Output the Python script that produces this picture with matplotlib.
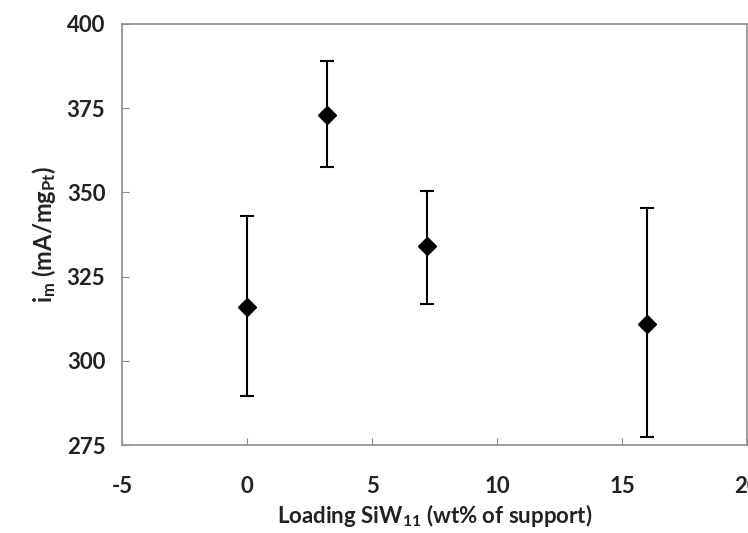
import numpy as np
import matplotlib.pyplot as plt

plt.rcParams['font.family'] = ['Lato', 'DejaVu Sans']
plt.rcParams['mathtext.fontset'] = 'custom'
plt.rcParams['mathtext.rm'] = 'Lato'
plt.rcParams['mathtext.it'] = 'Lato'
plt.rcParams['mathtext.bf'] = 'Lato:bold'
plt.rcParams['axes.unicode_minus'] = False

# carga de SiW11 y actividad masica
carga = [0, 3.2, 7.2, 16]
im = [316, 373, 334, 311]
err_sup = [343, 389, 350.5, 345.5]
err_inf = [289.5, 357.5, 317, 277.5]

x_ticks = [-5, 0, 5, 10, 15, 20]
y_ticks = [275, 300, 325, 350, 375, 400]

yerr = [np.array(im) - np.array(err_inf), np.array(err_sup) - np.array(im)]

fig = plt.figure(figsize=(7.48, 5.33), dpi=100)
ax = fig.add_axes([0.163, 0.165, 0.836, 0.79])

ax.errorbar(carga, im, yerr=yerr, fmt='D', color='black', markersize=9,
            ecolor='black', elinewidth=1.5, capsize=5, capthick=1.5)

ax.set_xlim(-5, 20)
ax.set_ylim(275, 400)
ax.set_xticks(x_ticks)
ax.set_yticks(y_ticks)

for s in ax.spines.values():
    s.set_color('#8c8c8c')
    s.set_linewidth(1.2)
ax.tick_params(direction='in', length=5, color='#8c8c8c', labelsize=16, pad=12)
ax.tick_params(axis='x', pad=22)
for lab in ax.get_xticklabels() + ax.get_yticklabels():
    lab.set_fontweight('bold')
    lab.set_color('#222222')

ax.set_xlabel('Loading SiW$_{\\mathbf{11}}$ (wt% of support)', fontsize=16,
              fontweight='bold', color='#222222', labelpad=4)
ax.set_ylabel('i$_{\\mathbf{m}}$ (mA/mg$_{\\mathbf{Pt}}$)', fontsize=17,
              fontweight='bold', color='#222222', labelpad=6)

fig.savefig('out.png', dpi=100)
